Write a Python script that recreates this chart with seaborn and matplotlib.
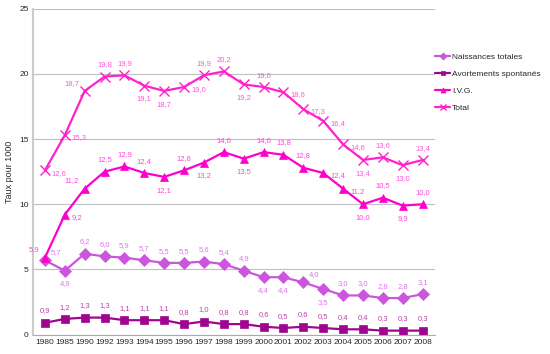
import numpy as np
import pandas as pd
import matplotlib
matplotlib.use("Agg")
import matplotlib.pyplot as plt
import seaborn as sns

# données (taux pour 1000)
annees = ["1980", "1985", "1990", "1992", "1993", "1994", "1995", "1996", "1997", "1998",
          "1999", "2000", "2001", "2002", "2003", "2004", "2005", "2006", "2007", "2008"]
naissances = [5.7, 4.9, 6.2, 6.0, 5.9, 5.7, 5.5, 5.5, 5.6, 5.4,
              4.9, 4.4, 4.4, 4.0, 3.5, 3.0, 3.0, 2.8, 2.8, 3.1]
avortements = [0.9, 1.2, 1.3, 1.3, 1.1, 1.1, 1.1, 0.8, 1.0, 0.8,
               0.8, 0.6, 0.5, 0.6, 0.5, 0.4, 0.4, 0.3, 0.3, 0.3]
ivg = [5.9, 9.2, 11.2, 12.5, 12.9, 12.4, 12.1, 12.6, 13.2, 14.0,
       13.5, 14.0, 13.8, 12.8, 12.4, 11.2, 10.0, 10.5, 9.9, 10.0]
total = [12.6, 15.3, 18.7, 19.8, 19.9, 19.1, 18.7, 19.0, 19.9, 20.2,
         19.2, 19.0, 18.6, 17.3, 16.4, 14.6, 13.4, 13.6, 13.0, 13.4]

series = {
    "Naissances totales": naissances,
    "Avortements spontanés": avortements,
    "I.V.G.": ivg,
    "Total": total,
}
couleurs = {"Naissances totales": "#cc55dd", "Avortements spontanés": "#a0058f",
            "I.V.G.": "#ff00cc", "Total": "#ff22cc"}
couleurs_txt = {"Naissances totales": "#dd77ee", "Avortements spontanés": "#bb44aa",
                "I.V.G.": "#ff44dd", "Total": "#ff55dd"}
marqueurs = {"Naissances totales": "D", "Avortements spontanés": "s",
             "I.V.G.": "^", "Total": "x"}

# placement des étiquettes
pos_total = ["r", "r", "l", "a", "a", "b", "b", "r", "a", "a",
             "b", "a", "r", "r", "r", "r", "b", "a", "b", "a"]
pos_ivg = ["l", "r", "l", "a", "a", "a", "b", "a", "b", "a",
           "b", "a", "a", "a", "r", "r", "b", "a", "b", "a"]
pos_nais = ["ru", "b", "a", "a", "a", "a", "a", "a", "a", "a",
            "a", "b", "b", "ru", "b", "a", "a", "a", "a", "a"]
pos_avort = ["a"] * 20
positions = {"Naissances totales": pos_nais, "Avortements spontanés": pos_avort,
             "I.V.G.": pos_ivg, "Total": pos_total}
decal = {"a": (0, 6, "center", "bottom"), "b": (0, -7, "center", "top"),
         "r": (5, -2, "left", "center"), "l": (-4, 3, "right", "bottom"),
         "ru": (4, 3, "left", "bottom")}

rows = []
for nom, vals in series.items():
    for i, v in enumerate(vals):
        rows.append({"x": i, "annee": annees[i], "serie": nom, "taux": v})
df = pd.DataFrame(rows)

sns.set_style("white")
plt.rcParams["font.family"] = ["Liberation Sans", "DejaVu Sans"]

fig, ax = plt.subplots(figsize=(5.5, 3.54), dpi=100)
fig.subplots_adjust(left=0.06, right=0.79, top=0.975, bottom=0.055)

for nom in series:
    sub = df[df["serie"] == nom]
    m = marqueurs[nom]
    sns.lineplot(data=sub, x="x", y="taux", ax=ax, color=couleurs[nom], marker=m,
                 markersize=7 if m == "x" else 6, markeredgecolor=couleurs[nom],
                 markeredgewidth=1 if m == "x" else 0.5, linewidth=1.6, label=nom)
    for i, v in enumerate(series[nom]):
        dx, dy, ha, va = decal[positions[nom][i]]
        ax.annotate(f"{v:.1f}".replace(".", ","), (i, v), xytext=(dx, dy), textcoords="offset points",
                    ha=ha, va=va, fontsize=5.5, color=couleurs_txt[nom])

ax.set_xlim(-0.6, len(annees) - 0.4)
ax.set_ylim(0, 25)
ax.set_yticks([0, 5, 10, 15, 20, 25])
ax.set_xticks(range(len(annees)))
ax.set_xticklabels(annees)
ax.tick_params(axis="both", labelsize=6, length=0, pad=3)
ax.set_xticks(np.arange(-0.5, len(annees), 1), minor=True)
ax.tick_params(axis="x", which="minor", length=3, color="#aaaaaa")
ax.grid(axis="y", color="#c0c0c0", linewidth=0.8)
ax.set_axisbelow(True)
for s in ["top", "right"]:
    ax.spines[s].set_visible(False)
ax.spines["left"].set_color("#cccccc")
ax.spines["left"].set_linewidth(1.5)
ax.spines["bottom"].set_color("#aaaaaa")
ax.set_xlabel("")
ax.set_ylabel("Taux pour 1000", fontsize=6.5)

leg = ax.legend(loc="upper left", bbox_to_anchor=(0.99, 0.88), frameon=False, fontsize=6,
                handlelength=1.8, labelspacing=1.1, handletextpad=0.2, markerscale=0.6,
                borderaxespad=0.2)

fig.savefig("out.png", dpi=100)
